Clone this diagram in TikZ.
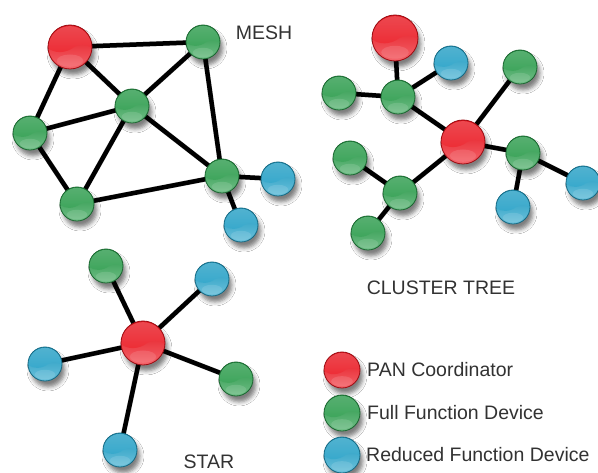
\documentclass[tikz,border=0pt]{standalone}
\usepackage{fontspec}
\setmainfont{Liberation Sans}
\usetikzlibrary{shadows.blur,backgrounds}

\definecolor{ballred}{RGB}{238,18,28}
\definecolor{ballgreen}{RGB}{38,156,72}
\definecolor{ballblue}{RGB}{30,160,200}
\definecolor{labelgray}{RGB}{50,50,50}

\tikzset{
  % glossy sphere: #1 = colour, #2 = radius
  ball/.style 2 args={circle, inner sep=0pt, minimum size=2*#2,
    draw=#1!65!black, line width=0.8pt,
    blur shadow={shadow xshift=3pt, shadow yshift=-6pt,
      shadow blur radius=4pt, shadow opacity=50},
    path picture={
      \begin{scope}[shift={(path picture bounding box.center)}, x=#2, y=#2]
        \shade[top color=#1!95!black, middle color=#1!75!black,
               bottom color=#1!65!white] (-1,-1) rectangle (1,1);
        \shade[top color=#1!55!white, bottom color=#1, fill opacity=0.5]
          (-1,-0.05) arc[start angle=180, end angle=0, radius=1]
          .. controls (0.7,0.15) and (0.45,0.15) .. (0.2,0.0)
          .. controls (-0.2,-0.3) and (-0.7,-0.3) .. cycle;
        \fill[white, fill opacity=0.12] (0,-0.62) ellipse (0.6 and 0.28);
      \end{scope}}},
  pan/.style={ball={ballred}{22pt}},
  ffd/.style={ball={ballgreen}{17pt}},
  rfd/.style={ball={ballblue}{17pt}},
  link/.style={line width=4.5pt, black},
  linkshade/.style={line width=5pt, black, opacity=0.2,
    xshift=3pt, yshift=-6pt},
  caption/.style={text=labelgray, font=\fontsize{19.5}{22}\selectfont,
    inner sep=0pt},
}

\begin{document}
\begin{tikzpicture}[x=1pt, y=-1pt]
  \useasboundingbox (0,0) rectangle (598,473);

  % ---------- mesh ----------
  \node[pan] (m1) at (70,47) {};
  \node[ffd] (m2) at (203,42) {};
  \node[ffd] (m3) at (132,106) {};
  \node[ffd] (m4) at (30,133) {};
  \node[ffd] (m5) at (77,204) {};
  \node[ffd] (m6) at (222,176) {};
  \node[rfd] (m7) at (278,179) {};
  \node[rfd] (m8) at (241,225) {};
  \node[caption, anchor=base] (tmesh) at (264,40) {MESH};

  % ---------- cluster tree ----------
  \node[ball={ballred}{23pt}] (c1) at (395,38) {};
  \node[rfd] (c2) at (451,63) {};
  \node[ffd] (c3) at (339,93) {};
  \node[ffd] (c4) at (398,97) {};
  \node[ffd] (c5) at (520,67) {};
  \node[pan] (c6) at (463,142) {};
  \node[ffd] (c7) at (523,153) {};
  \node[rfd] (c8) at (583,183) {};
  \node[rfd] (c9) at (513,207) {};
  \node[ffd] (c10) at (350,158) {};
  \node[ffd] (c11) at (400,193) {};
  \node[ffd] (c12) at (368,233) {};
  \node[caption, anchor=base] (ttree) at (441,295) {CLUSTER TREE};

  % ---------- star ----------
  \node[pan] (s0) at (143,343) {};
  \node[ffd] (s1) at (106,266) {};
  \node[rfd] (s2) at (212,279) {};
  \node[rfd] (s3) at (45,364) {};
  \node[ffd] (s4) at (236,379) {};
  \node[rfd] (s5) at (120,450) {};
  \node[caption, anchor=base] (tstar) at (209,469) {STAR};

  % ---------- legend ----------
  \node[ball={ballred}{18pt}] (l1) at (342,370) {};
  \node[ball={ballgreen}{18pt}] (l2) at (342,413) {};
  \node[ball={ballblue}{18pt}] (l3) at (342,455) {};
  \node[caption, anchor=base west] (t1) at (367,377) {PAN Coordinator};
  \node[caption, anchor=base west] (t2) at (367,420) {Full Function Device};
  \node[caption, anchor=base west] (t3) at (366,462) {Reduced Function Device};

  % ---------- links, behind the spheres ----------
  \begin{scope}[on background layer]
    \fill[white] (0,0) rectangle (598,473);
    \def\linklist{m1/m2, m1/m4, m1/m3, m2/m3, m2/m6, m4/m3, m4/m5,
      m3/m5, m3/m6, m5/m6, m6/m7, m6/m8,
      c1/c4, c4/c2, c3/c4, c4/c6, c6/c5, c6/c7, c7/c8, c7/c9,
      c6/c11, c11/c10, c11/c12,
      s0/s1, s0/s2, s0/s3, s0/s4, s0/s5}
    \foreach \a/\b in \linklist { \draw[linkshade] (\a.center) -- (\b.center); }
    \foreach \a/\b in \linklist { \draw[link] (\a.center) -- (\b.center); }
  \end{scope}
\end{tikzpicture}
\end{document}
